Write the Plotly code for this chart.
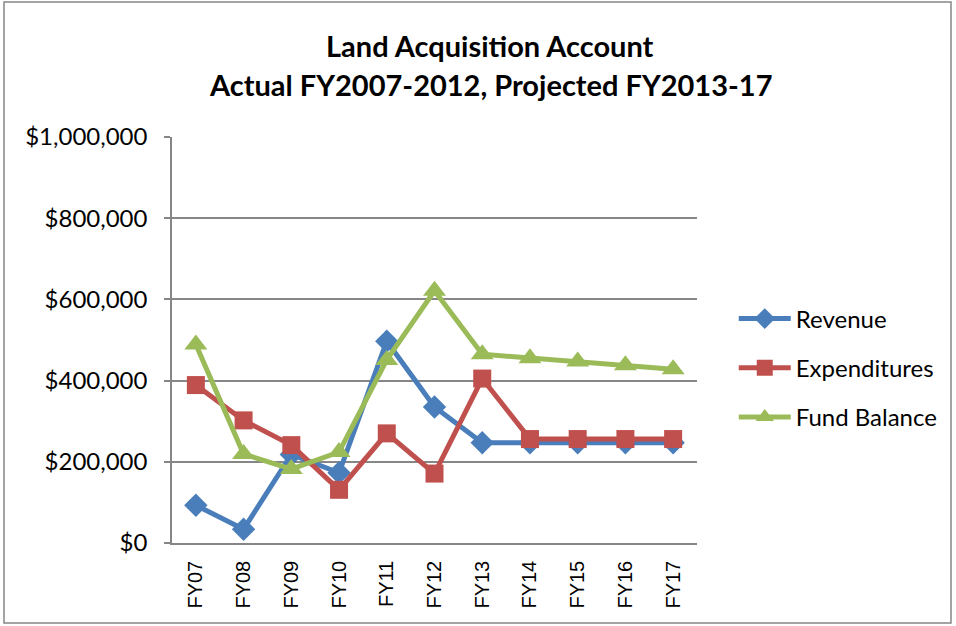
import plotly.graph_objects as go

categories = ["FY07", "FY08", "FY09", "FY10", "FY11", "FY12", "FY13", "FY14", "FY15", "FY16", "FY17"]
revenue = [93000, 34000, 218000, 173000, 497000, 335000, 247000, 247000, 247000, 247000, 247000]
expenditures = [389000, 302000, 241000, 131000, 270000, 171000, 405000, 256000, 256000, 256000, 256000]
fund_balance = [489000, 219000, 182000, 224000, 451000, 621000, 465000, 455000, 447000, 438000, 428000]
y_ticks = [0, 200000, 400000, 600000, 800000, 1000000]
y_tick_labels = ["$0", "$200,000", "$400,000", "$600,000", "$800,000", "$1,000,000"]
title_lines = ["Land Acquisition Account", "Actual FY2007-2012, Projected FY2013-17"]

fig = go.Figure()
series = [
    ("Revenue", revenue, "#4A7EBB", "diamond", 18),
    ("Expenditures", expenditures, "#C0504D", "square", 18),
    ("Fund Balance", fund_balance, "#9BBB59", "triangle-up", 20),
]
for name, vals, color, sym, size in series:
    fig.add_trace(go.Scatter(
        x=categories, y=vals, name=name, mode="lines+markers",
        line=dict(color=color, width=5),
        marker=dict(symbol=sym, size=size, color=color),
        legendgroup=name,
    ))

annotations = []
for i, line in enumerate(title_lines):
    annotations.append(dict(
        text="<b>" + line + "</b>", xref="paper", yref="paper",
        x=(490 - 172) / 525, y=(543 - (45 + 40 * i)) / 406,
        xanchor="center", yanchor="middle", showarrow=False,
        font=dict(family="Lato", size=29, color="black"),
    ))

fig.update_layout(
    width=956, height=626,
    margin=dict(l=172, r=259, t=137, b=83),
    paper_bgcolor="white", plot_bgcolor="white",
    font=dict(family="Lato", size=24, color="black"),
    showlegend=True,
    annotations=annotations,
    legend=dict(
        x=1.07, xanchor="left", y=0.431, yanchor="middle",
        font=dict(family="Lato", size=24, color="black"),
        tracegroupgap=15, itemwidth=52, bgcolor="rgba(0,0,0,0)",
    ),
    xaxis=dict(
        type="category", range=[-0.5, 10.5],
        tickangle=-90, tickfont=dict(family="Liberation Sans", size=20, color="black"),
        showline=True, linecolor="#868686", linewidth=1.5,
        showgrid=False, ticks="", ticklabelstandoff=8,
    ),
    yaxis=dict(
        range=[0, 1000000], tickvals=y_ticks, ticktext=y_tick_labels,
        tickfont=dict(family="Lato", size=24, color="black"),
        showline=True, linecolor="#868686", linewidth=1.5,
        showgrid=True, gridcolor="#868686", gridwidth=1.5,
        ticks="outside", ticklen=6, tickcolor="#868686", tickwidth=1.5,
        zeroline=False, ticklabelstandoff=12,
    ),
    shapes=[dict(
        type="rect", xref="paper", yref="paper",
        x0=(4 - 172) / 525, x1=(951 - 172) / 525,
        y0=(543 - 623) / 406, y1=(543 - 2) / 406,
        line=dict(color="#868686", width=1.5), fillcolor="rgba(0,0,0,0)",
        layer="below",
    )],
)

fig.write_html(
    "out.html",
    config={"displayModeBar": False},
    post_script="document.body.style.margin='0';document.body.style.overflow='hidden';",
)
